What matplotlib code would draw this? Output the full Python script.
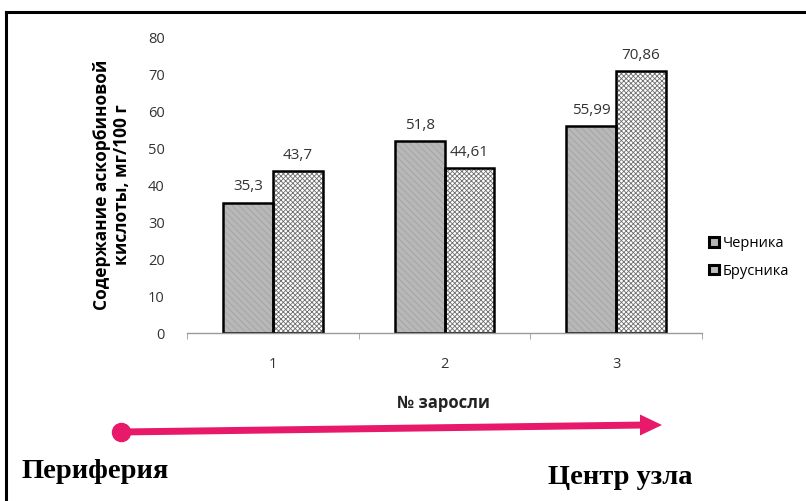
import matplotlib.pyplot as plt
import matplotlib.patches as mpatches
from matplotlib.lines import Line2D
import numpy as np

plt.rcParams['font.family'] = ['Open Sans', 'DejaVu Sans']
plt.rcParams['hatch.linewidth'] = 0.6

# Содержание аскорбиновой кислоты по зарослям
thickets = ['1', '2', '3']
blueberry = [35.3, 51.8, 55.99]     # Черника
lingonberry = [43.7, 44.61, 70.86]  # Брусника
series_names = ['Черника', 'Брусника']
y_ticks = [0, 10, 20, 30, 40, 50, 60, 70, 80]

fig = plt.figure(figsize=(8.06, 5.01), dpi=100)
ax = fig.add_axes([0.232, 0.335, 0.639, 0.591])

x = np.arange(len(thickets))
w = 0.29
# сначала заливка со штриховкой, потом чёрный контур
ax.bar(x - w / 2, blueberry, w, facecolor='#b8b8b8', edgecolor='#a2a2a2',
       linewidth=0, hatch='\\\\\\\\\\')
ax.bar(x + w / 2, lingonberry, w, facecolor='white', edgecolor='#6e6e6e',
       linewidth=0, hatch='xxxxxxx')
b1 = ax.bar(x - w / 2, blueberry, w, fill=False, edgecolor='black', linewidth=1.8)
b2 = ax.bar(x + w / 2, lingonberry, w, fill=False, edgecolor='black', linewidth=1.8)

# подписи значений
for bars, vals in ((b1, blueberry), (b2, lingonberry)):
    for p, v in zip(bars, vals):
        ax.annotate(f'{v:g}'.replace('.', ','),
                    (p.get_x() + p.get_width() / 2, v),
                    xytext=(0, 6), textcoords='offset points',
                    ha='center', va='bottom', fontsize=11, color='#333333')

ax.set_xlim(-0.5, 2.5)
ax.set_ylim(0, 80)
ax.set_yticks(y_ticks)
ax.tick_params(axis='y', length=0, pad=16, labelsize=10.5, labelcolor='#333333')
ax.set_xticks(x)
ax.set_xticklabels(thickets)
ax.set_xticks([-0.5, 0.5, 1.5, 2.5], minor=True)
ax.tick_params(axis='x', which='major', length=0, pad=17, labelsize=10.5,
               labelcolor='#333333')
ax.tick_params(axis='x', which='minor', length=4, color='#9a9a9a')

for s in ('top', 'right', 'left'):
    ax.spines[s].set_visible(False)
ax.spines['bottom'].set_color('#9a9a9a')
ax.spines['bottom'].set_linewidth(1)

ax.set_ylabel('Содержание аскорбиновой\nкислоты, мг/100 г', fontsize=12.5,
              fontweight='bold', linespacing=1.2)
ax.yaxis.set_label_coords(-0.108, 0.5)

fig.text(443 / 806, 1 - 403 / 501, '№ заросли', ha='center', va='center',
         fontsize=12, fontweight='bold', color='#222222')

# легенда
handles = [mpatches.Patch(facecolor='#b4b4b4', edgecolor='black', linewidth=2.2),
           mpatches.Patch(facecolor='#bdbdbd', edgecolor='black', linewidth=2.2)]
fig.legend(handles, series_names, loc='upper left',
           bbox_to_anchor=(702 / 806, 1 - 229 / 501), frameon=False,
           fontsize=10.5, handlelength=0.65, handleheight=0.65,
           handletextpad=0.25, labelspacing=0.85, borderpad=0)

# стрелка от периферии к центру
pink = '#e8186a'
fig.add_artist(Line2D([121 / 806, 645 / 806], [1 - 432 / 501, 1 - 425 / 501],
                      transform=fig.transFigure, color=pink, lw=5,
                      solid_capstyle='butt'))
fig.add_artist(Line2D([121 / 806], [1 - 432 / 501], transform=fig.transFigure,
                      marker='o', ms=13, color=pink))
fig.add_artist(mpatches.FancyArrow(640 / 806, 1 - 425 / 501, 22 / 806, 0,
                                   width=0, head_width=21 / 501,
                                   head_length=22 / 806, length_includes_head=True,
                                   transform=fig.transFigure, color=pink, lw=0))

fig.text(22 / 806, 1 - 471 / 501, 'Периферия', ha='left', va='center',
         fontsize=20.5, fontweight='bold', family='Liberation Serif')
fig.text(548 / 806, 1 - 478 / 501, 'Центр узла', ha='left', va='center',
         fontsize=20.5, fontweight='bold', family='Liberation Serif')

# рамка сверху и слева
fig.add_artist(Line2D([6 / 806, 1], [1 - 12 / 501, 1 - 12 / 501],
                      transform=fig.transFigure, color='black', lw=2.2))
fig.add_artist(Line2D([6 / 806, 6 / 806], [0, 1 - 12 / 501],
                      transform=fig.transFigure, color='black', lw=2.2))

fig.savefig('out.png', dpi=100)
